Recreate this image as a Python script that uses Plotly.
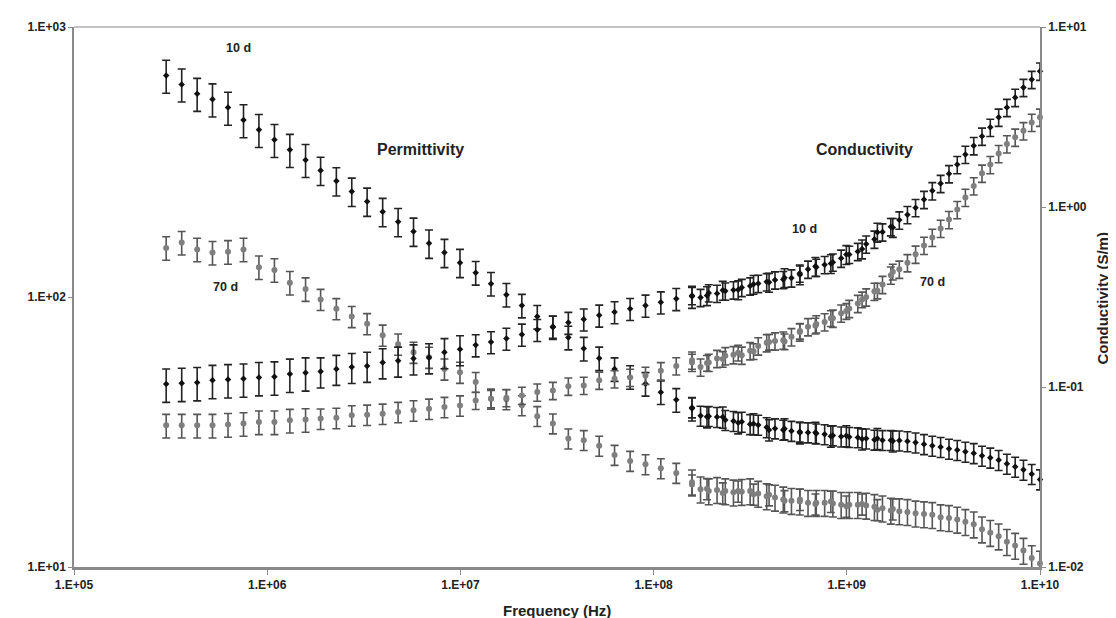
import plotly.graph_objects as go

# ---------------- data ----------------
freq_low = [3.00e5, 3.61e5, 4.34e5, 5.21e5, 6.27e5, 7.54e5, 9.06e5, 1.09e6, 1.31e6, 1.58e6,
            1.89e6, 2.28e6, 2.74e6, 3.29e6, 3.96e6, 4.76e6, 5.72e6, 6.88e6, 8.27e6, 9.95e6,
            1.20e7, 1.44e7, 1.73e7, 2.08e7, 2.50e7, 3.01e7, 3.62e7, 4.35e7, 5.23e7, 6.28e7,
            7.56e7, 9.08e7, 1.09e8, 1.31e8, 1.58e8, 1.89e8, 2.28e8, 2.74e8, 3.29e8, 3.96e8,
            4.76e8, 5.72e8, 6.88e8, 8.27e8, 9.95e8, 1.20e9, 1.44e9, 1.73e9]
freq_high = [1.58e8, 1.75e8, 1.93e8, 2.13e8, 2.35e8, 2.59e8, 2.86e8, 3.16e8, 3.48e8, 3.85e8,
             4.25e8, 4.69e8, 5.17e8, 5.71e8, 6.30e8, 6.95e8, 7.68e8, 8.47e8, 9.35e8, 1.03e9,
             1.14e9, 1.26e9, 1.39e9, 1.53e9, 1.69e9, 1.87e9, 2.06e9, 2.27e9, 2.51e9, 2.77e9,
             3.06e9, 3.38e9, 3.73e9, 4.11e9, 4.54e9, 5.01e9, 5.53e9, 6.11e9, 6.74e9, 7.44e9,
             8.21e9, 9.06e9, 1.00e10]

perm_10d_low = [661, 613, 566, 540, 503, 452, 416, 382, 351, 322,
                294, 269, 246, 226, 207, 190, 175, 158, 146, 134,
                123, 112, 102, 93.0, 84.6, 77.3, 70.8, 64.4, 59.3, 54.1,
                50.6, 47.7, 44.4, 41.6, 38.6, 36.0, 35.9, 34.2, 33.9, 32.2,
                32.5, 31.4, 31.5, 30.5, 30.6, 29.8, 29.9, 29.3]
perm_10d_high = [39.0, 36.3, 36.2, 35.9, 35.0, 34.7, 34.5, 33.8, 33.6, 32.9,
                 32.6, 32.2, 31.9, 31.7, 31.5, 31.2, 31.0, 30.7, 30.4, 30.3,
                 30.2, 29.9, 29.6, 29.5, 29.5, 29.4, 29.2, 28.9, 28.5, 28.1,
                 27.8, 27.4, 27.1, 26.7, 26.4, 25.8, 25.4, 24.9, 24.1, 23.5,
                 22.9, 22.1, 21.1]

perm_70d_low = [152, 159, 150, 146, 147, 150, 129, 126, 113, 107,
                97.9, 90.5, 84.6, 79.6, 72.2, 66.9, 62.4, 59.8, 54.1, 52.6,
                48.4, 42.0, 41.8, 39.7, 36.2, 34.0, 29.9, 29.5, 28.1, 26.0,
                24.7, 24.0, 23.2, 22.3, 20.2, 19.5, 18.8, 19.1, 18.6, 18.5,
                17.6, 17.8, 17.1, 17.5, 16.8, 17.1, 16.3, 16.4]
perm_70d_high = [20.6, 19.4, 19.1, 19.3, 19.1, 18.9, 19.0, 19.1, 18.7, 18.3,
                 18.1, 17.8, 17.6, 17.5, 17.3, 17.3, 17.3, 17.2, 17.0, 17.0,
                 17.0, 16.9, 16.7, 16.5, 16.2, 16.1, 16.0, 15.8, 15.7, 15.6,
                 15.3, 15.2, 15.0, 14.7, 14.4, 13.8, 13.4, 13.0, 12.4, 12.0,
                 11.5, 10.8, 10.3]

cond_10d_low = [0.104, 0.105, 0.106, 0.109, 0.110, 0.111, 0.113, 0.114, 0.118, 0.120,
                0.122, 0.126, 0.129, 0.131, 0.137, 0.140, 0.144, 0.146, 0.156, 0.162,
                0.171, 0.178, 0.186, 0.196, 0.208, 0.217, 0.228, 0.238, 0.250, 0.261,
                0.272, 0.284, 0.296, 0.309, 0.318, 0.322, 0.345, 0.347, 0.372, 0.382,
                0.405, 0.420, 0.468, 0.485, 0.545, 0.585, 0.725, 0.770]
cond_10d_high = [0.322, 0.314, 0.333, 0.331, 0.341, 0.346, 0.357, 0.364, 0.376, 0.384,
                 0.393, 0.395, 0.403, 0.429, 0.451, 0.462, 0.478, 0.494, 0.519, 0.545,
                 0.566, 0.622, 0.662, 0.726, 0.777, 0.846, 0.907, 0.992, 1.10, 1.23,
                 1.35, 1.53, 1.72, 1.96, 2.19, 2.47, 2.77, 3.15, 3.57, 4.06,
                 4.61, 5.11, 5.68]

cond_70d_low = [0.0613, 0.0613, 0.0613, 0.0613, 0.0619, 0.0626, 0.0640, 0.0640, 0.0653, 0.0659,
                0.0668, 0.0674, 0.0696, 0.0702, 0.0711, 0.0727, 0.0742, 0.0758, 0.0775, 0.0790,
                0.0842, 0.0861, 0.0872, 0.0898, 0.0937, 0.0956, 0.101, 0.102, 0.109, 0.111,
                0.113, 0.116, 0.123, 0.131, 0.137, 0.136, 0.143, 0.155, 0.158, 0.178,
                0.179, 0.205, 0.219, 0.241, 0.264, 0.306, 0.343, 0.437]
cond_70d_high = [0.141, 0.129, 0.137, 0.144, 0.149, 0.151, 0.150, 0.159, 0.169, 0.176,
                 0.180, 0.182, 0.190, 0.202, 0.216, 0.224, 0.230, 0.241, 0.257, 0.273,
                 0.291, 0.316, 0.340, 0.371, 0.418, 0.451, 0.490, 0.546, 0.612, 0.678,
                 0.760, 0.851, 0.967, 1.13, 1.31, 1.54, 1.72, 1.98, 2.24, 2.44,
                 2.65, 2.95, 3.15]

# error bars, percent of value (read per segment)
perm_10d_low_err = [14] * 10 + [12] * 10 + [10] * 15 + [9] * 13
perm_10d_high_err = [8.5] * 43
perm_70d_low_err = [10] * 10 + [9] * 10 + [8.5] * 15 + [9] * 13
perm_70d_high_err = [11] * 43
cond_10d_low_err = [21] * 10 + [19] * 10 + [14] * 15 + [12] * 13
cond_10d_high_err = [11] * 43
cond_70d_low_err = [15] * 10 + [13] * 10 + [11] * 15 + [10] * 13
cond_70d_high_err = [11] * 43

x_ticks = [1e5, 1e6, 1e7, 1e8, 1e9, 1e10]
x_tick_text = ["1.E+05", "1.E+06", "1.E+07", "1.E+08", "1.E+09", "1.E+10"]
y_ticks = [1e1, 1e2, 1e3]
y_tick_text = ["1.E+01", "1.E+02", "1.E+03"]
y2_ticks = [1e-2, 1e-1, 1e0, 1e1]
y2_tick_text = ["1.E-02", "1.E-01", "1.E+00", "1.E+01"]

# ---------------- figure ----------------
FONT = "Liberation Sans, Arial, sans-serif"
TXT = "#222222"
BLACK = "#111111"
GRAY = "#7f7f7f"
AXIS = "#8a8a8a"


def series(xs, ys, errs, color, bar_color, symbol, size, yaxis):
    err = [v * p / 100.0 for v, p in zip(ys, errs)]
    return go.Scatter(
        x=xs, y=ys, mode="markers", yaxis=yaxis, cliponaxis=False,
        marker=dict(color=color, size=size, symbol=symbol, line=dict(width=0)),
        error_y=dict(type="data", array=err, arrayminus=err, symmetric=False,
                     color=bar_color, thickness=1.6, width=4),
        showlegend=False, hoverinfo="x+y",
    )


fig = go.Figure()
fig.add_trace(series(freq_low + freq_high, cond_70d_low + cond_70d_high,
                     cond_70d_low_err + cond_70d_high_err, GRAY, "#555555", "circle", 6, "y2"))
fig.add_trace(series(freq_low + freq_high, perm_70d_low + perm_70d_high,
                     perm_70d_low_err + perm_70d_high_err, GRAY, "#555555", "circle", 6, "y"))
fig.add_trace(series(freq_low + freq_high, cond_10d_low + cond_10d_high,
                     cond_10d_low_err + cond_10d_high_err, BLACK, "#222222", "diamond", 5, "y2"))
fig.add_trace(series(freq_low + freq_high, perm_10d_low + perm_10d_high,
                     perm_10d_low_err + perm_10d_high_err, BLACK, "#222222", "diamond", 5, "y"))

tick_font = dict(family=FONT, size=12, color=TXT, weight="bold")
fig.update_layout(
    width=1116, height=618,
    margin=dict(l=66, r=84, t=15, b=59),
    paper_bgcolor="white", plot_bgcolor="white",
    font=dict(family=FONT, color=TXT),
    xaxis=dict(type="log", range=[5, 10], tickvals=x_ticks, ticktext=x_tick_text,
               showgrid=False, zeroline=False, showline=True, linecolor=AXIS,
               linewidth=2.5, ticks="outside", ticklen=5, tickcolor=AXIS,
               tickfont=tick_font),
    yaxis=dict(type="log", range=[1, 3], tickvals=y_ticks, ticktext=y_tick_text,
               showgrid=False, zeroline=False, showline=True, linecolor=AXIS,
               linewidth=1.5, ticks="outside", ticklen=4, tickcolor=AXIS,
               tickfont=tick_font),
    yaxis2=dict(type="log", range=[-2, 1], tickvals=y2_ticks, ticktext=y2_tick_text,
                overlaying="y", side="right", showgrid=False, zeroline=False,
                showline=True, linecolor=AXIS, linewidth=1.5, ticks="outside",
                ticklen=4, tickcolor=AXIS, tickfont=tick_font),
)

# top frame line
fig.add_shape(type="line", xref="paper", yref="paper", x0=0, x1=1, y0=1, y1=1,
              line=dict(color=AXIS, width=1.2))

labels = [
    ("10 d", 0.1698, 0.9614, 12.5),
    ("70 d", 0.1573, 0.5184, 12.5),
    ("Permittivity", 0.3592, 0.7739, 16),
    ("Conductivity", 0.8188, 0.7739, 16),
    ("10 d", 0.7557, 0.6268, 12.5),
    ("70 d", 0.8882, 0.5276, 12.5),
]
for text, x, y, size in labels:
    fig.add_annotation(text=text, x=x, y=y, xref="paper", yref="paper", showarrow=False,
                       xanchor="center", yanchor="middle",
                       font=dict(family=FONT, size=size, color=TXT, weight="bold"))

# axis titles
fig.add_annotation(text="Frequency (Hz)", x=0.5, y=-0.0809, xref="paper", yref="paper",
                   showarrow=False, xanchor="center", yanchor="middle",
                   font=dict(family=FONT, size=15, color=TXT, weight="bold"))
fig.add_annotation(text="Conductivity (S/m)", x=1.0756, y=0.498, xref="paper",
                   yref="paper", showarrow=False, textangle=-90,
                   xanchor="right", yanchor="middle",
                   font=dict(family=FONT, size=15, color=TXT, weight="bold"))

fig.write_html("out.html")
